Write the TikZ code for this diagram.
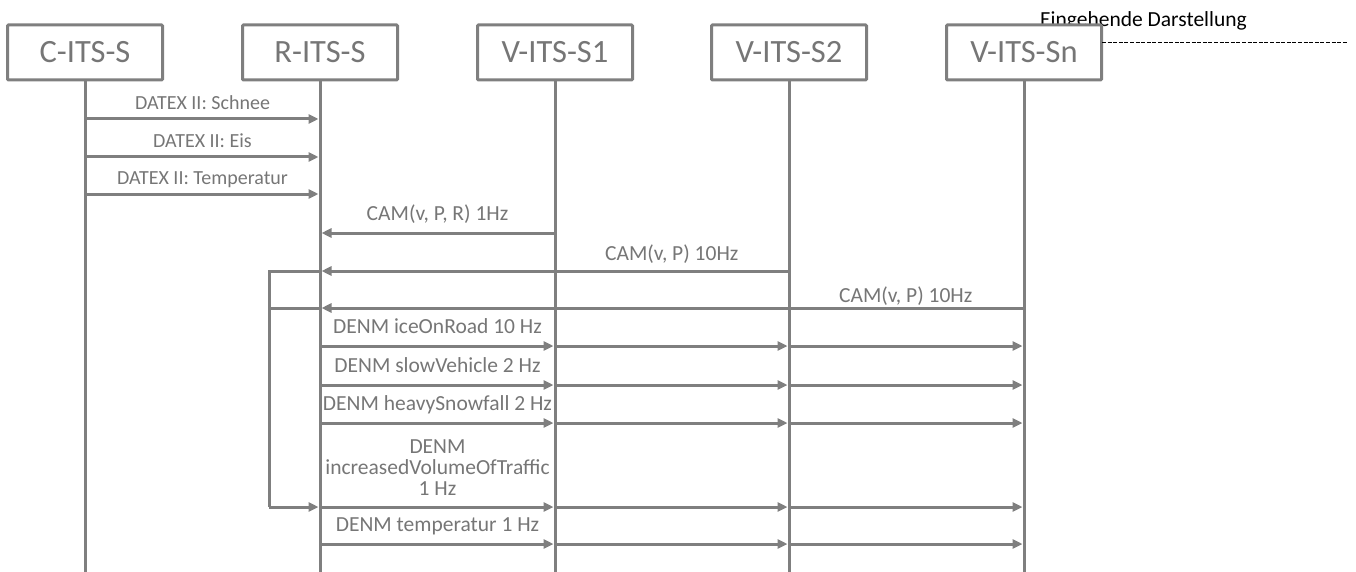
\documentclass[tikz,border=0pt]{standalone}
\usepackage{fontspec}
\setmainfont{Carlito}
\usetikzlibrary{arrows.meta,calc}
\definecolor{lg}{RGB}{127,127,127}
\definecolor{lt}{RGB}{118,118,118}
\begin{document}
\begin{tikzpicture}[x=1pt,y=-1pt,
  lifeline/.style={draw=lg,line width=3pt},
  boxst/.style={draw=lg,line width=3pt,fill=white,minimum width=155pt,minimum height=55pt,inner sep=0pt,rounded corners=1pt,text=lt,font=\fontsize{32.5}{36}\selectfont},
  msg/.style={draw=lg,line width=3pt,-{Triangle[length=10pt,width=9pt]},shorten >=1.5pt},
  plain/.style={draw=lg,line width=3pt},
  lbl/.style={text=lt,font=\fontsize{21.5}{22}\selectfont,inner sep=0pt,anchor=base,midway},
  dlbl/.style={lbl,font=\fontsize{20}{21}\selectfont,yshift=9.5pt},
  clbl/.style={lbl,yshift=12.5pt}]
\useasboundingbox (0,0) rectangle (1356,572);
% header note
\node[anchor=base west,inner sep=0pt,font=\fontsize{21.5}{24}\selectfont] (note) at (1040,27) {Eingehende Darstellung};
% coordinates
\foreach \y in {119,157,194,233,271,308,346,385,423,507,544}{
  \foreach \n/\x in {c/85,r/320,a/555,b/789,n/1024,l/269}{
    \coordinate (\n\y) at (\x,\y);
  }
}
\foreach \n/\x in {c/85,r/320,a/555,b/789,n/1024}{
  \coordinate (\n-top) at (\x,52.5);
  \coordinate (\n-bot) at (\x,572);
  \draw[lifeline] (\n-top) -- (\n-bot);
}
% boxes
\node[boxst] (cbox) at (c-top) {C-ITS-S};
\node[boxst] (rbox) at (r-top) {R-ITS-S};
\node[boxst] (abox) at (a-top) {V-ITS-S1};
\node[boxst] (bbox) at (b-top) {V-ITS-S2};
\node[boxst] (nbox) at (n-top) {V-ITS-Sn};
% dashed line
\coordinate (dstart) at (1102,43);
\coordinate (dend) at (1347,43);
\draw[black,line width=1pt,dash pattern=on 4pt off 1.6pt] (dstart) -- (dend);
% DATEX
\draw[msg] (c119) -- node[dlbl]{DATEX II: Schnee} (r119);
\draw[msg] (c157) -- node[dlbl]{DATEX II: Eis} (r157);
\draw[msg] (c194) -- node[dlbl]{DATEX II: Temperatur} (r194);
% CAM
\draw[msg] (a233) -- node[clbl]{CAM(v, P, R) 1Hz} (r233);
\draw[msg] (b271) -- node[lbl,pos=0.25,yshift=11pt]{CAM(v, P) 10Hz} (r271);
\draw[msg] (n308) -- node[lbl,pos=0.168,yshift=5.5pt]{CAM(v, P) 10Hz} (r308);
% loop
\draw[plain] (r271) -- (l271) -- (l507);
\draw[plain] (r308) -- (l308);
\draw[msg] (l507) -- (r507);
% DENM
\foreach \y/\t in {346/DENM iceOnRoad 10 Hz,385/DENM slowVehicle 2 Hz,423/DENM heavySnowfall 2 Hz,544/DENM temperatur 1 Hz}{
  \draw[msg] (r\y) -- node[clbl]{\t} (a\y);
  \draw[msg] (a\y) -- (b\y);
  \draw[msg] (b\y) -- (n\y);
}
\draw[msg] (r507) -- node[text=lt,font=\fontsize{21.5}{21}\selectfont,inner sep=0pt,anchor=south,align=center,yshift=10.5pt,midway]{DENM\\increasedVolumeOfTraffic\\1 Hz} (a507);
\draw[msg] (a507) -- (b507);
\draw[msg] (b507) -- (n507);
\end{tikzpicture}
\end{document}
